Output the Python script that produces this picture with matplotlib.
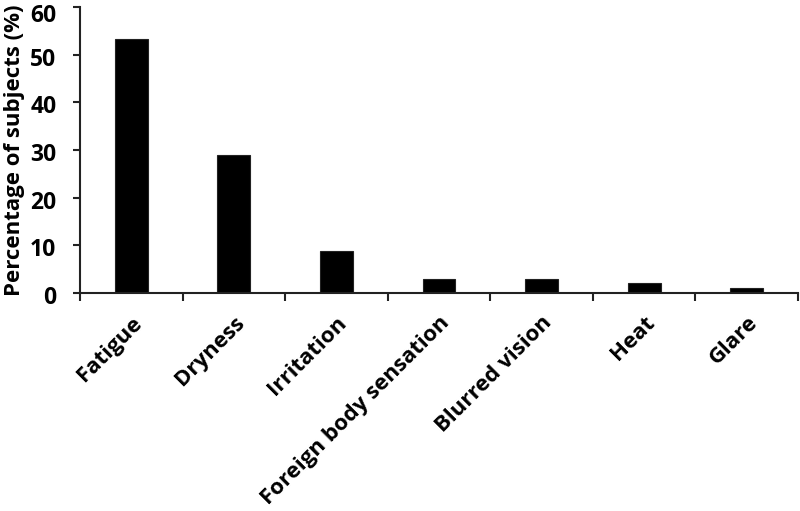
import matplotlib
matplotlib.use("Agg")
import matplotlib.pyplot as plt
import matplotlib.transforms as mtransforms
import numpy as np

categories = ["Fatigue", "Dryness", "Irritation", "Foreign body sensation",
              "Blurred vision", "Heat", "Glare"]
values = [53.2, 28.9, 8.8, 3.0, 3.0, 2.0, 1.0]
yticks = [0, 10, 20, 30, 40, 50, 60]

plt.rcParams['font.family'] = ['Open Sans', 'DejaVu Sans']
plt.rcParams['font.weight'] = 'bold'

fig = plt.figure(figsize=(8, 5.11), dpi=100)
ax = fig.add_axes([0.1, 0.4266, 0.8975, 0.5597])

x = np.arange(len(categories))
ax.bar(x, values, width=0.32, color='black', edgecolor='#222222', linewidth=0.8)

ax.set_xlim(-0.5, len(categories) - 0.5)
ax.set_ylim(0, 60)
ax.set_yticks(yticks)
ax.set_yticklabels([str(t) for t in yticks], fontsize=16.5, fontweight='bold')

ax.set_xticks(x)
ax.set_xticklabels(categories, rotation=45, ha='right', va='top',
                   rotation_mode='anchor', fontsize=16, fontweight='bold')
ax.tick_params(axis='x', which='major', length=0, pad=14)
ax.set_xticks(np.arange(-0.5, len(categories)), minor=True)
ax.tick_params(axis='x', which='minor', length=6, width=1.5, color='#222222', direction='out')
ax.tick_params(axis='y', length=5, width=1.5, color='#222222', direction='out', pad=12)

# shift y tick labels slightly downward (top one more, to stay inside figure)
for lbl in ax.get_yticklabels():
    dy = -6 if lbl.get_text() == "60" else -2
    lbl.set_transform(lbl.get_transform() +
                      mtransforms.ScaledTranslation(0, dy / 100, fig.dpi_scale_trans))

for s in ['top', 'right']:
    ax.spines[s].set_visible(False)
for s in ['left', 'bottom']:
    ax.spines[s].set_linewidth(1.5)
    ax.spines[s].set_color('#222222')

ax.set_ylabel("Percentage of subjects (%)", fontsize=16, fontweight='bold', labelpad=4)

fig.savefig("out.png", dpi=100)
